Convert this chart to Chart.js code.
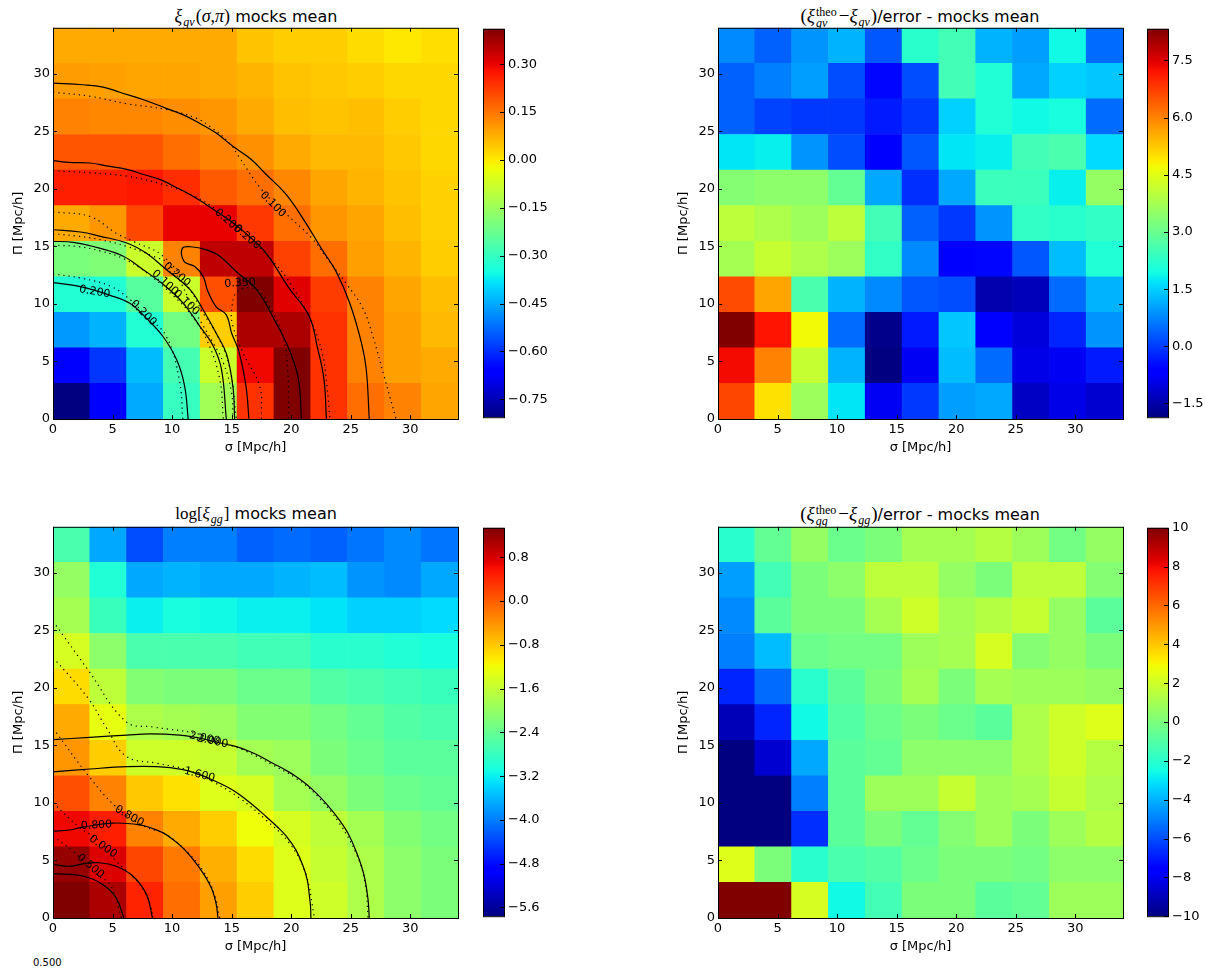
<!DOCTYPE html>
<html>
<head>
<meta charset="utf-8">
<title>mocks mean</title>
<script src="https://cdn.jsdelivr.net/npm/chart.js@4"></script>
<style>
  body { margin: 0; background: #fff; }
  #page { position: relative; width: 1206px; height: 968px; overflow: hidden; font-family: "DejaVu Sans", sans-serif; color: #000; }
  canvas { position: absolute; }
  .ttl { position: absolute; font-size: 16px; line-height: 20px; white-space: nowrap; transform: translateX(-50%); }
  .m { font-family: "Liberation Serif", serif; font-style: italic; font-size: 19px; }
  .m .up { font-style: normal; }
  .s { display: inline-block; font-size: 12px; line-height: 12px; vertical-align: -4px; margin: 0 1px; }
  .ss { display: inline-block; font-size: 12px; line-height: 11px; vertical-align: -5px; text-align: left; margin: 0 2px 0 1px; }
  .ss i { display: block; font-style: normal; }
  .ss i + i { font-style: italic; }
  #stray { position: absolute; left: 33px; top: 957px; font-size: 10px; line-height: 12px; }
</style>
</head>
<body>
<div id="page">
  <div class="ttl" style="left:256px;top:6px"><span class="m" style="font-size:18px">ξ<span class="s">gv</span><span class="up">(</span>σ<span class="up">,</span>π<span class="up">)</span></span> mocks mean</div>
  <div class="ttl" style="left:920px;top:6px"><span class="m"><span class="up">(</span>ξ<span class="ss"><i>theo</i><i>gv</i></span><span class="up">−</span>ξ<span class="s">gv</span><span class="up">)</span></span>/error - mocks mean</div>
  <div class="ttl" style="left:256px;top:504px"><span class="m" style="font-size:17px"><span class="up">log[</span>ξ<span class="s">gg</span><span class="up">]</span></span> mocks mean</div>
  <div class="ttl" style="left:920px;top:504px"><span class="m"><span class="up">(</span>ξ<span class="ss"><i>theo</i><i>gg</i></span><span class="up">−</span>ξ<span class="s">gg</span><span class="up">)</span></span>/error - mocks mean</div>
  <div id="stray">0.500</div>
</div>
<script>
// bins, 11 x 11 over 0-34 Mpc/h
const binEdges = [0, 3.09, 6.18, 9.27, 12.36, 15.45, 18.55, 21.64, 24.73, 27.82, 30.91, 34];
const sigmaTicks = [0, 5, 10, 15, 20, 25, 30];
const piTicks = [0, 5, 10, 15, 20, 25, 30];

// cell values, first row is the bottom one (pi = 0)
const xiGvMean = [
  [-.81, -.67, -.45, -.30, -.14, .237, .41, .237, .16, .134, .089],
  [-.66, -.59, -.43, -.28, -.08, .293, .41, .237, .134, .095, .082],
  [-.47, -.44, -.33, -.21, .037, .366, .366, .237, .134, .095, .063],
  [-.33, -.33, -.25, -.08, .198, .41, .309, .224, .134, .089, .057],
  [-.20, -.19, -.08, .134, .345, .345, .218, .16, .095, .07, .037],
  [.082, .108, .21, .299, .30, .231, .16, .108, .089, .057, .031],
  [.263, .263, .27, .243, .186, .16, .127, .089, .07, .05, .031],
  [.192, .192, .192, .16, .134, .115, .082, .063, .063, .044, .024],
  [.134, .127, .127, .12, .108, .082, .057, .05, .057, .037, .024],
  [.10, .095, .089, .089, .082, .07, .05, .044, .037, .024, .024],
  [.082, .082, .082, .082, .082, .05, .037, .037, .018, .002, .015]
];
const xiGvError = [
  [6.66, 4.99, 3.64, 1.71, -.84, -.03, .99, 1.10, -1.25, -.94, -1.15],
  [7.31, 6.01, 4.15, 1.20, -1.86, -.84, 1.30, .48, -.94, -.84, -.33],
  [8.33, 7.2, 4.71, .48, -1.76, -.33, 1.40, -.64, -1.04, -.23, .89],
  [6.6, 5.63, 2.62, 1.20, .79, .28, .18, -1.45, -1.35, .48, 1.20],
  [3.74, 4.15, 3.85, 3.64, 2.32, .79, -.64, -.54, .28, 1.30, 2.11],
  [4.05, 3.85, 3.64, 4.05, 2.52, .38, -.03, .89, 2.32, 2.22, 2.32],
  [3.34, 3.44, 3.44, 2.93, 1.10, -.13, 1.10, 2.42, 2.42, 1.81, 3.54],
  [1.71, 1.81, .89, .18, -.74, .28, 1.71, 1.81, 2.52, 2.62, 1.60],
  [.38, .08, -.03, -.03, -.33, -.03, 1.50, 2.11, 1.91, 2.01, .48],
  [.38, .69, .99, .18, -.54, .18, 2.52, 2.11, 1.10, 1.50, 1.40],
  [.79, .38, .89, 1.20, .28, 2.22, 2.52, 1.20, .99, 1.91, .48]
];
const logXiGgMean = [
  [1.34, 1.08, .44, -.126, -.50, -.84, -1.36, -1.50, -1.78, -2.07, -2.21],
  [1.2, .77, .175, -.20, -.615, -.95, -1.36, -1.57, -1.78, -2.07, -2.21],
  [.65, .475, -.28, -.58, -.84, -1.22, -1.43, -1.64, -1.86, -2.14, -2.28],
  [.10, -.28, -.80, -.99, -1.36, -1.43, -1.86, -2.00, -2.21, -2.35, -2.42],
  [-.43, -.84, -1.50, -1.50, -1.57, -1.86, -1.93, -2.21, -2.35, -2.49, -2.49],
  [-.58, -1.29, -1.78, -1.86, -1.93, -2.14, -2.14, -2.28, -2.42, -2.57, -2.64],
  [-.95, -1.64, -2.14, -2.21, -2.21, -2.35, -2.35, -2.57, -2.64, -2.71, -2.78],
  [-1.43, -2.07, -2.64, -2.64, -2.64, -2.71, -2.71, -2.92, -2.92, -2.99, -3.06],
  [-1.86, -2.78, -3.20, -3.06, -3.13, -3.20, -3.20, -3.28, -3.42, -3.42, -3.35],
  [-2.00, -2.99, -3.70, -3.63, -3.70, -3.70, -3.63, -3.56, -3.84, -3.91, -3.70],
  [-2.64, -3.70, -4.34, -3.99, -3.99, -4.20, -4.13, -4.20, -4.06, -3.91, -4.06]
];
const xiGgError = [
  [10, 10, 2.2, -2.6, -1.4, 0, 0, -.8, -.6, .8, .8],
  [2.4, 0, -2, -1.2, -1, -.4, 0, 0, -.2, .4, .4],
  [-10, -10, -6.6, -.8, 0, -.6, .2, .8, 0, .8, 1.4],
  [-10, -10, -5, -.8, .8, .8, 1.8, .8, 1, 1.8, 1.2],
  [-10, -8.6, -4.2, -.8, -.6, .4, .4, .4, 1.2, 2, 1.4],
  [-9, -6.8, -2.6, -1, -.4, 0, -.4, -.8, 1.2, 2, 2.4],
  [-6.8, -5.4, -2, -.8, 0, 1, 0, 1, .8, .8, .6],
  [-5, -3.8, -.4, -.2, -.2, .8, 1, 2.2, .2, .6, 0],
  [-4.8, -.8, 0, 0, 1, 2, 1, 1.4, 1.8, .6, -.8],
  [-4.4, -1.4, 0, .4, 1.6, 1.6, .6, 0, 1.6, 1.6, .2],
  [-2, -.6, .6, -.4, 0, 1, 1, 1.4, .8, -.2, .6]
];

// colour limits and colorbar ticks
const limitsGvMean = [-.806, .411];
const limitsGvError = [-1.86, 8.33];
const limitsGgMean = [-5.76, 1.34];
const limitsGgError = [-10, 10];
const cbTicksGvMean = [-.75, -.60, -.45, -.30, -.15, 0, .15, .30];
const cbTicksGvError = [-1.5, 0, 1.5, 3, 4.5, 6, 7.5];
const cbTicksGgMean = [-5.6, -4.8, -4, -3.2, -2.4, -1.6, -.8, 0, .8];
const cbTicksGgError = [-10, -8, -6, -4, -2, 0, 2, 4, 6, 8, 10];

// contours, [sigma, pi]
const gvSolid = [
  [[0,29.2],[2.5,29.05],[4.2,28.85],[5.6,28.4],[7.6,27.75],[9.5,27],[10.9,26.45],[12.3,25.7],[13.7,24.85],[15.1,23.7],[16.6,22.6],[17.9,21.25],[19.5,19.6],[21,17.4],[22.6,14.7],[23.75,12.85],[24.9,10.1],[25.9,6.6],[26.3,4.3],[26.55,0]],
  [[0,22.45],[1.4,22.3],[3.1,22.25],[4.5,22],[6.2,21.7],[7.6,21.25],[9,20.8],[10.4,20.1],[12,19.2],[13.7,18.05],[15.1,17.05],[16.5,15.85],[17.9,14.4],[19.8,11.4],[21.5,8.95],[22.2,6.2],[22.75,3.45],[22.95,0]],
  [[16.45,0],[16.2,2.85],[15.6,5.9],[15,7.45],[14.55,9.05],[13.7,9.75],[13,11.1],[12.6,12.4],[11.9,13.25],[11,13.7],[10.87,14.85],[11.76,14.95],[12.9,14.7],[14,14.15],[15.4,12.8],[17.1,11.25],[18.7,8.4],[19.8,6.1],[20.6,3.5],[20.85,0]],
  [[0,16.45],[2.3,16.25],[3.9,15.9],[6.2,15.3],[7.85,14.4],[9.5,13],[11.5,11.25],[12.6,9.5],[13.7,7.45],[14.55,5.7],[15.1,2.85],[15.25,0]],
  [[0,15.45],[1.7,15.35],[3.9,14.85],[5.9,14.15],[7.55,13],[9.25,11.7],[10.9,10.1],[12.3,8.1],[13.45,6.35],[14.15,4.3],[14.55,0]],
  [[0,11.85],[2.3,11.5],[4.8,10.75],[6.45,10.05],[7.85,8.75],[9.25,7.15],[10.4,5.1],[11.05,2.85],[11.35,0]]
];
const gvDotted = [
  [[0,28.4],[3.1,28.05],[6.2,27.4],[9.5,26.9],[12,26.15],[13.2,25.4],[14.8,24],[15.6,22.8],[17.5,19.95],[19.6,17.8],[21.7,15.75],[22.9,14.1],[24.6,11.8],[26,9.65],[26.85,7.2],[27.8,3.7],[28.8,0]],
  [[0,21.6],[3.1,21.4],[6.2,21.1],[9.2,20.4],[11.8,19.4],[13.7,18.2],[15.7,16.5],[18.6,13.55],[20.1,11.5],[21.6,8.65],[22.6,5.75],[23,2.85],[23.25,0]],
  [[17.5,0],[17.35,2.85],[15.95,5.75],[15.1,8.1],[15,9.5],[15.5,11.1],[17.1,11.25],[18.3,9.5],[19.3,7.2],[19.7,4.3],[19.8,0]],
  [[0,18],[3.1,17.6],[5.3,16.15],[6.7,15.45],[9.25,14.15],[11.5,11.25],[12.6,9.2],[13.7,7.45],[14.8,4.6],[15.4,0]],
  [[0,16.1],[2,15.9],[3.9,15.6],[6.2,15],[8.4,14.15],[9.8,13.4],[12,9.2],[13.45,6.6],[14.3,4.9],[15,2.25],[15.1,0]],
  [[0,15.1],[2,15],[4,14.6],[6,13.9],[8,12.6],[10,10.8],[11.5,9.2],[12.9,6.9],[14,3.45],[14.3,0]],
  [[0,12.6],[2.3,12.25],[4.8,11.55],[6.45,10.4],[7.85,8.95],[9.5,7.2],[10.6,3.45],[10.9,0]]
];
const gvLabels = [
  ['0.100', 18.46, 18.64, 45], ['0.200', 14.7, 17.2, 41], ['0.200', 16.3, 15.8, 41],
  ['0.350', 15.7, 11.8, -3], ['0.200', 10.4, 12.55, 40], ['0.100', 9.4, 11.85, 43],
  ['0.100', 11.2, 10.1, 43], ['0.200', 3.5, 11.05, 10], ['0.200', 7.6, 9.2, 45]
];
const ggSolid = [
  [[0,15.5],[3.1,15.7],[6.2,15.9],[8.15,16],[10.65,15.9],[12,15.7],[13.3,15.4],[14.5,15.1],[15.4,14.9],[16.2,14.6],[17.3,14.1],[18.45,13.45],[19.45,12.9],[20.4,12.3],[21.3,11.6],[22.1,10.85],[23.1,9.75],[24.05,8.5],[24.85,7.2],[25.5,5.65],[25.9,4.5],[26.2,3.3],[26.45,1.6],[26.55,0]],
  [[0,12.7],[3.1,12.95],[6.2,13.15],[8.7,13.15],[10.9,12.9],[12.2,12.5],[13.4,12],[14.6,11.4],[15.7,10.7],[16.8,9.8],[17.9,8.8],[18.8,7.95],[19.6,7.1],[20.4,5.9],[21,4.5],[21.35,3.3],[21.5,2.15],[21.62,1],[21.65,0]],
  [[0,7.55],[1.4,7.65],[2.5,7.9],[5.05,8.25],[7.3,8.1],[8.3,7.8],[9.25,7.4],[10.1,6.8],[10.9,6.1],[11.6,5.3],[12.3,4.35],[12.9,3.4],[13.4,2.35],[13.7,1.2],[13.85,0]],
  [[0,4.65],[1.4,4.5],[2.5,4.7],[3.9,4.8],[5.3,4.5],[6.7,3.65],[7.85,2.05],[8.35,0]],
  [[0,3.85],[2.5,3.65],[4.2,2.9],[5.3,1.75],[5.95,0]]
];
const ggDotted = [
  [[0,25.8],[2.95,21.55],[6.15,17.05],[8.4,16.6],[12,16.05],[14,15.35],[16.2,14.5],[18.45,13.3],[20.4,12.15],[22.1,10.7],[24,8.3],[25.5,5.5],[26.2,3.1],[26.45,0]],
  [[0,22.65],[2.95,19.1],[4.5,16.5],[6.15,14.05],[8.7,13.45],[11.2,12.9],[13.4,11.85],[15.7,10.4],[17.9,8.5],[19.85,6.5],[21.2,3.9],[21.95,0]],
  [[0,16.5],[3.1,12.2],[5.35,9.6],[7.6,8],[9.5,7.25],[11.2,5.8],[12.6,4.1],[13.55,2.05],[14,0]],
  [[0,10],[2.25,7.85],[3.9,6.7],[5.3,4.95],[7.3,2.9],[8.15,1.2],[8.4,0]],
  [[0,7.1],[1.7,5.8],[3.65,3.8],[4.8,2.9],[5.75,0]]
];
const ggLabels = [
  ['2.000', 12.73, 15.6, 12], ['2.000', 13.4, 15.35, 12], ['1.600', 12.3, 12.45, 15],
  ['0.800', 3.65, 8.05, -3], ['0.800', 6.4, 8.85, 30], ['0.000', 4.2, 6.2, 35], ['0.500', 3.15, 4.5, 40]
];

// matplotlib jet
function ramp(t, pts) {
  for (let i = 1; i < pts.length; i++) {
    if (t <= pts[i][0]) {
      const a = pts[i - 1], b = pts[i];
      return a[1] + (b[1] - a[1]) * (t - a[0]) / (b[0] - a[0]);
    }
  }
  return pts[pts.length - 1][1];
}
function jet(t) {
  t = Math.min(1, Math.max(0, t));
  const r = ramp(t, [[0, 0], [.35, 0], [.66, 1], [.89, 1], [1, .5]]);
  const g = ramp(t, [[0, 0], [.125, 0], [.375, 1], [.64, 1], [.91, 0], [1, 0]]);
  const b = ramp(t, [[0, .5], [.11, 1], [.34, 1], [.65, 0], [1, 0]]);
  return 'rgb(' + Math.round(r * 255) + ',' + Math.round(g * 255) + ',' + Math.round(b * 255) + ')';
}

const tickFont = { family: '"DejaVu Sans"', size: 13 };

// black frame and inward ticks, like the old matplotlib style
const framePlugin = {
  id: 'frame',
  afterDatasetsDraw(chart) {
    const a = chart.chartArea, c = chart.ctx;
    c.save();
    c.strokeStyle = '#000';
    c.lineWidth = 1;
    c.beginPath();
    if (chart.options.plugins.frame.colorbar) {
      chart.scales.y.ticks.forEach(t => {
        const py = Math.round(chart.scales.y.getPixelForValue(t.value)) + .5;
        c.moveTo(a.right, py); c.lineTo(a.right - 4, py);
      });
    } else {
      chart.scales.x.ticks.forEach(t => {
        const px = Math.round(chart.scales.x.getPixelForValue(t.value)) + .5;
        c.moveTo(px, a.bottom); c.lineTo(px, a.bottom - 4);
        c.moveTo(px, a.top); c.lineTo(px, a.top + 4);
      });
      chart.scales.y.ticks.forEach(t => {
        const py = Math.round(chart.scales.y.getPixelForValue(t.value)) + .5;
        c.moveTo(a.left, py); c.lineTo(a.left + 4, py);
        c.moveTo(a.right, py); c.lineTo(a.right - 4, py);
      });
    }
    c.stroke();
    c.strokeRect(a.left + .5, a.top + .5, a.right - a.left, a.bottom - a.top);
    c.restore();
  }
};

const contourLabelPlugin = {
  id: 'contourLabels',
  afterDatasetsDraw(chart) {
    const labels = chart.options.plugins.contourLabels.items || [];
    const c = chart.ctx;
    labels.forEach(l => {
      c.save();
      c.translate(chart.scales.x.getPixelForValue(l[1]), chart.scales.y.getPixelForValue(l[2]));
      c.rotate(l[3] * Math.PI / 180);
      c.font = '11px "DejaVu Sans"';
      c.fillStyle = '#000';
      c.textAlign = 'center';
      c.textBaseline = 'middle';
      c.fillText(l[0], 0, 0);
      c.restore();
    });
  }
};

function addCanvas(left, top, w, h) {
  const cv = document.createElement('canvas');
  cv.width = w; cv.height = h;
  cv.style.left = left + 'px'; cv.style.top = top + 'px';
  cv.style.width = w + 'px'; cv.style.height = h + 'px';
  document.getElementById('page').appendChild(cv);
  return cv;
}

function heatPanel(left, top, rows, limits, solid, dotted, labels) {
  const plotW = 405, plotH = 392;
  const cv = addCanvas(left - 53, top - 10, 53 + plotW + 12, 10 + plotH + 38);
  const datasets = [];
  (solid || []).forEach(line => datasets.push({
    type: 'line', order: 0, data: line.map(p => ({ x: p[0], y: p[1] })),
    borderColor: '#000', borderWidth: 1.2, pointRadius: 0, tension: .4, fill: false
  }));
  (dotted || []).forEach(line => datasets.push({
    type: 'line', order: 0, data: line.map(p => ({ x: p[0], y: p[1] })),
    borderColor: '#000', borderWidth: 1.2, borderDash: [1.2, 4], pointRadius: 0, tension: .4, fill: false
  }));
  rows.forEach((row, i) => datasets.push({
    type: 'bar', order: 1, grouped: false, barPercentage: 1, categoryPercentage: 1, borderWidth: 0,
    data: row.map((v, j) => ({ x: (binEdges[j] + binEdges[j + 1]) / 2, y: [binEdges[i], binEdges[i + 1]] })),
    backgroundColor: row.map(v => jet((v - limits[0]) / (limits[1] - limits[0])))
  }));
  new Chart(cv, {
    type: 'bar',
    data: { datasets },
    plugins: [framePlugin, contourLabelPlugin],
    options: {
      responsive: false,
      animation: false,
      layout: { padding: { top: 10, right: 12 } },
      plugins: {
        legend: { display: false }, title: { display: false }, tooltip: { enabled: false },
        frame: { colorbar: false },
        contourLabels: { items: labels }
      },
      scales: {
        x: {
          type: 'linear', min: 0, max: 34, offset: false,
          grid: { display: false, drawTicks: false }, border: { display: false },
          afterBuildTicks: s => { s.ticks = sigmaTicks.map(value => ({ value })); },
          afterFit: s => { s.height = 38; },
          ticks: { font: tickFont, color: '#000', padding: 3, maxRotation: 0, autoSkip: false, callback: v => String(v) },
          title: { display: true, text: 'σ [Mpc/h]', font: tickFont, color: '#000', padding: 2 }
        },
        y: {
          type: 'linear', min: 0, max: 34,
          grid: { display: false, drawTicks: false }, border: { display: false },
          afterBuildTicks: s => { s.ticks = piTicks.map(value => ({ value })); },
          afterFit: s => { s.width = 53; },
          ticks: { font: tickFont, color: '#000', padding: 3, autoSkip: false, callback: v => String(v) },
          title: { display: true, text: 'Π [Mpc/h]', font: tickFont, color: '#000', padding: 11 }
        }
      }
    }
  });
}

function colorbar(left, top, limits, ticks, digits) {
  const barW = 21, plotH = 392;
  const cv = addCanvas(left, top - 10, barW + 52, plotH + 20);
  new Chart(cv, {
    type: 'bar',
    data: {
      labels: [''],
      datasets: [{
        data: [limits],
        barPercentage: 1, categoryPercentage: 1, borderWidth: 0,
        backgroundColor: ctx => {
          const a = ctx.chart.chartArea;
          if (!a) return '#000';
          const g = ctx.chart.ctx.createLinearGradient(0, a.bottom, 0, a.top);
          for (let i = 0; i <= 64; i++) g.addColorStop(i / 64, jet(i / 64));
          return g;
        }
      }]
    },
    plugins: [framePlugin],
    options: {
      responsive: false,
      animation: false,
      layout: { padding: { top: 10, bottom: 10 } },
      plugins: {
        legend: { display: false }, title: { display: false }, tooltip: { enabled: false },
        frame: { colorbar: true }
      },
      scales: {
        x: { display: false },
        y: {
          position: 'right', min: limits[0], max: limits[1],
          grid: { display: false, drawTicks: false }, border: { display: false },
          afterBuildTicks: s => { s.ticks = ticks.map(value => ({ value })); },
          afterFit: s => { s.width = 52; },
          ticks: {
            font: tickFont, color: '#000', padding: 4, autoSkip: false,
            callback: v => v.toFixed(digits).replace('-', '\u2212')
          }
        }
      }
    }
  });
}

heatPanel(53, 27, xiGvMean, limitsGvMean, gvSolid, gvDotted, gvLabels);
colorbar(483, 27, limitsGvMean, cbTicksGvMean, 2);
heatPanel(718, 27, xiGvError, limitsGvError);
colorbar(1147, 27, limitsGvError, cbTicksGvError, 1);
heatPanel(53, 526, logXiGgMean, limitsGgMean, ggSolid, ggDotted, ggLabels);
colorbar(483, 526, limitsGgMean, cbTicksGgMean, 1);
heatPanel(718, 526, xiGgError, limitsGgError);
colorbar(1147, 526, limitsGgError, cbTicksGgError, 0);
</script>
</body>
</html>
